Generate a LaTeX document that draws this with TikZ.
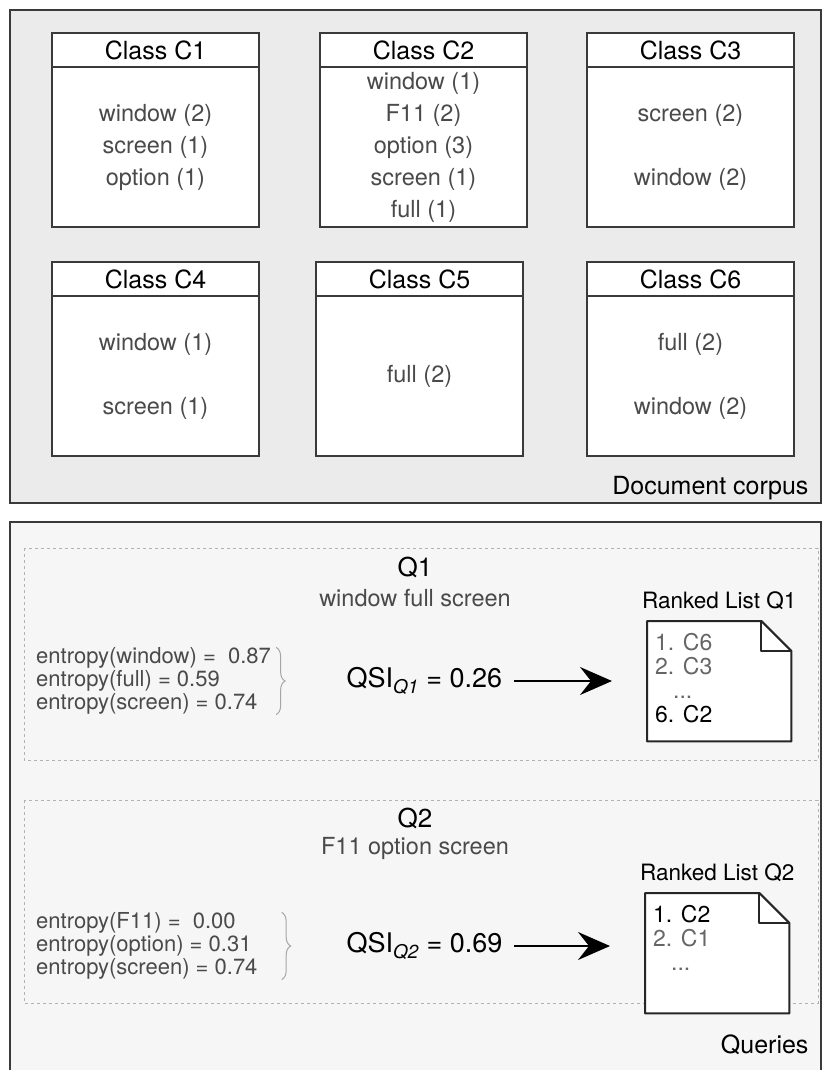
\documentclass[tikz,border=0pt]{standalone}
\usepackage{fontspec}
\setmainfont{TeX Gyre Heros}
\usepackage{xcolor}
\usepackage{tikz}
\usetikzlibrary{arrows.meta,decorations.pathreplacing,positioning}

\definecolor{corpusgray}{HTML}{EBEBEB}
\definecolor{querygray}{HTML}{F6F6F6}
\definecolor{framegray}{HTML}{3A3A3A}
\definecolor{textgray}{HTML}{4A4A4A}
\definecolor{itemgray}{HTML}{666666}

\tikzset{
  boxline/.style={draw=framegray,line width=1.3pt},
  classhead/.style={boxline,fill=white,minimum width=207pt,minimum height=34pt,inner sep=0pt,outer sep=0pt,anchor=north west,font=\fontsize{25}{28}\selectfont},
  classbody/.style={boxline,fill=white,minimum width=207pt,minimum height=160pt,inner sep=0pt,outer sep=0pt,align=center,text=textgray,font=\fontsize{23.5}{32}\selectfont},
  framelabel/.style={anchor=base east,font=\fontsize{25}{30}\selectfont},
  qframe/.style={draw=gray!60,dashed,line width=0.8pt},
  qtitle/.style={font=\fontsize{26}{30}\selectfont},
  qterms/.style={text=textgray,font=\fontsize{23.5}{28}\selectfont},
  entropy/.style={anchor=west,align=left,inner sep=0pt,text=textgray,font=\fontsize{22}{23}\selectfont},
  entbrace/.style={draw=gray!70,line width=1pt,decorate,decoration={brace,amplitude=9pt}},
  qsi/.style={anchor=west,font=\fontsize{27}{30}\selectfont},
  doclist/.style={anchor=north west,minimum width=144pt,minimum height=120pt,inner sep=0pt},
  docline/.style={draw=black!85,line width=2pt,line join=round},
  listtext/.style={anchor=north west,align=left,inner sep=0pt,font=\fontsize{23}{24}\selectfont},
  rankedlabel/.style={font=\fontsize{22.5}{26}\selectfont},
  qarrow/.style={line width=1.6pt,-{Stealth[length=32pt,width=28pt,inset=11pt]},shorten <=8pt,shorten >=35pt}
}

\begin{document}
\begin{tikzpicture}[x=1pt,y=-1pt]
\useasboundingbox (0,0) rectangle (822,1070);

\draw[boxline,fill=corpusgray] (10,10) rectangle (821,503);
\node[framelabel] (corpus) at (812,494) {Document corpus};

\foreach \name/\x/\y in {C1/52/33,C2/320/33,C3/587/33,C4/52/262,C5/316/262,C6/587/262}{
  \node[classhead] (head\name) at (\x,\y) {Class \name};
}
\node[classbody,below=0pt of headC1] (bodyC1) {window (2)\\screen (1)\\option (1)};
\node[classbody,below=0pt of headC2] (bodyC2) {window (1)\\F11 (2)\\option (3)\\screen (1)\\full (1)};
\node[classbody,below=0pt of headC3] (bodyC3) {screen (2)\\[32pt]window (2)};
\node[classbody,below=0pt of headC4] (bodyC4) {window (1)\\[32pt]screen (1)};
\node[classbody,below=0pt of headC5] (bodyC5) {full (2)};
\node[classbody,below=0pt of headC6] (bodyC6) {full (2)\\[32pt]window (2)};

\fill[querygray] (10,522) rectangle (821,1070);
\draw[boxline] (10,1070) |- (821,522) -- (821,1070);
\node[framelabel] (queries) at (812,1053) {Queries};

\draw[qframe] (24,548) rectangle (818,760);
\node[qtitle] (q1) at (415,567) {Q1};
\node[qterms] (q1terms) at (415,598) {window full screen};
\node[entropy] (ent1) at (36,681) {entropy(window) = \ 0.87\\entropy(full) = 0.59\\entropy(screen) = 0.74};
\draw[entbrace] ([xshift=5pt]ent1.north east) -- ([xshift=5pt]ent1.south east);
\node[qsi] (qsi1) at (343,681) {QSI\textsubscript{\textit{Q1}} = 0.26};
\node[doclist] (list1) at (647,621) {};
\draw[docline,fill=white] (list1.south west) -- (list1.north west) -- ([xshift=-30pt]list1.north east)
  -- ([yshift=-30pt]list1.north east) -- (list1.south east) -- cycle;
\draw[docline] ([xshift=-30pt]list1.north east) -- ([xshift=-30pt,yshift=-30pt]list1.north east) -- ([yshift=-30pt]list1.north east);
\node[listtext] (items1) at ([xshift=8pt,yshift=-12pt]list1.north west)
  {\textcolor{itemgray}{1. C6}\\\textcolor{itemgray}{2. C3}\\\hspace{18pt}\textcolor{itemgray}{...}\\6. C2};
\node[rankedlabel,above=8pt of list1] (rank1) {Ranked List Q1};
\draw[qarrow] (qsi1.east) -- (list1.west |- qsi1.east);

\draw[qframe] (24,800) rectangle (818,1003);
\node[qtitle] (q2) at (415,818) {Q2};
\node[qterms] (q2terms) at (415,848) {F11 option screen};
\node[entropy] (ent2) at (36,946) {entropy(F11) = \ 0.00\\entropy(option) = 0.31\\entropy(screen) = 0.74};
\draw[entbrace] ([xshift=24pt]ent2.north east) -- ([xshift=24pt]ent2.south east);
\node[qsi] (qsi2) at (343,946) {QSI\textsubscript{\textit{Q2}} = 0.69};
\node[doclist] (list2) at (645,893) {};
\draw[docline,fill=white] (list2.south west) -- (list2.north west) -- ([xshift=-30pt]list2.north east)
  -- ([yshift=-30pt]list2.north east) -- (list2.south east) -- cycle;
\draw[docline] ([xshift=-30pt]list2.north east) -- ([xshift=-30pt,yshift=-30pt]list2.north east) -- ([yshift=-30pt]list2.north east);
\node[listtext] (items2) at ([xshift=8pt,yshift=-12pt]list2.north west)
  {1. C2\\\textcolor{itemgray}{2. C1}\\\hspace{18pt}\textcolor{itemgray}{...}};
\node[rankedlabel,above=8pt of list2] (rank2) {Ranked List Q2};
\draw[qarrow] (qsi2.east) -- (list2.west |- qsi2.east);
\end{tikzpicture}
\end{document}
